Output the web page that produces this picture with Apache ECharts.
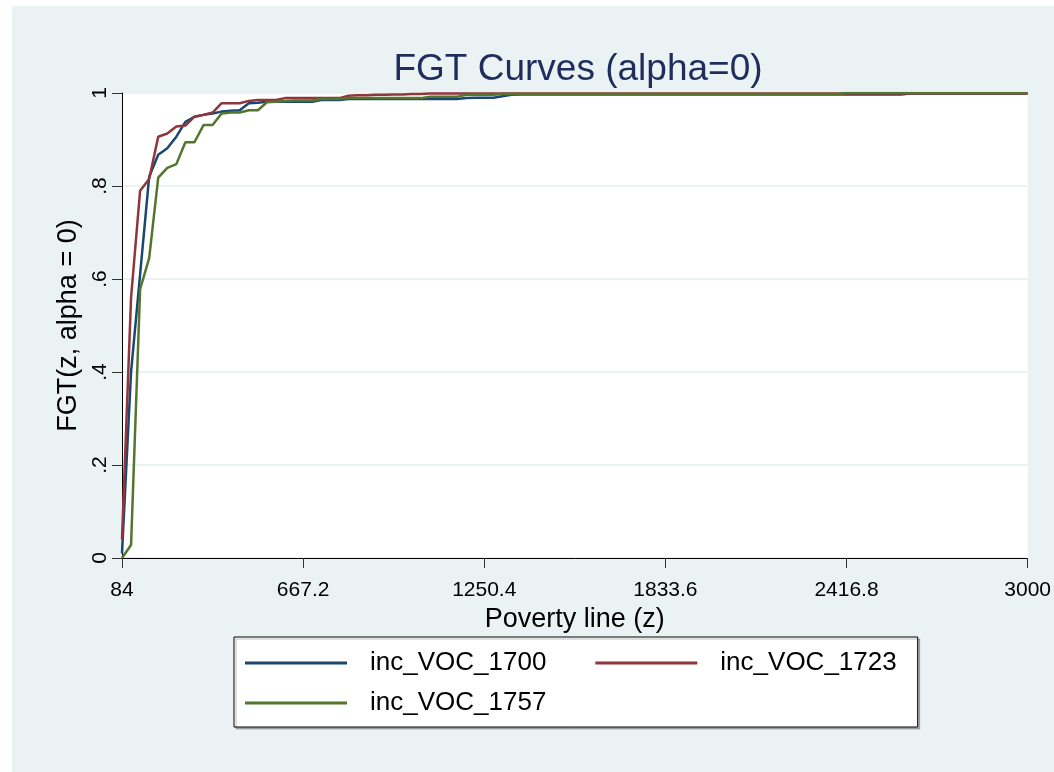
<!DOCTYPE html>
<html>
<head>
<meta charset="UTF-8">
<title>FGT Curves</title>
<script src="https://cdn.jsdelivr.net/npm/echarts@6/dist/echarts.min.js"></script>
<style>
  body { margin: 0; background: #fff; }
  #chart { position: absolute; left: 12px; top: 6px; width: 1042px; height: 766px; }
</style>
</head>
<body>
<div id="chart"></div>
<script type="text/javascript">

  // poverty line grid (z)
  var zLine = [84, 113.16, 142.32, 171.48, 200.64, 229.8, 258.96, 288.12, 317.28, 346.44,
    375.6, 404.76, 433.92, 463.08, 492.24, 521.4, 550.56, 579.72, 608.88, 638.04,
    667.2, 696.36, 725.52, 754.68, 783.84, 813, 842.16, 871.32, 900.48, 929.64,
    958.8, 987.96, 1017.12, 1046.28, 1075.44, 1104.6, 1133.76, 1162.92, 1192.08, 1221.24,
    1250.4, 1279.56, 1308.72, 1337.88, 1367.04, 1396.2, 1425.36, 1454.52, 1483.68, 1512.84,
    1542, 1571.16, 1600.32, 1629.48, 1658.64, 1687.8, 1716.96, 1746.12, 1775.28, 1804.44,
    1833.6, 1862.76, 1891.92, 1921.08, 1950.24, 1979.4, 2008.56, 2037.72, 2066.88, 2096.04,
    2125.2, 2154.36, 2183.52, 2212.68, 2241.84, 2271, 2300.16, 2329.32, 2358.48, 2387.64,
    2416.8, 2445.96, 2475.12, 2504.28, 2533.44, 2562.6, 2591.76, 2620.92, 2650.08, 2679.24,
    2708.4, 2737.56, 2766.72, 2795.88, 2825.04, 2854.2, 2883.36, 2912.52, 2941.68, 2970.84,
    3000];

  var voc1700 = [0.01, 0.40, 0.61, 0.82, 0.867, 0.881, 0.906, 0.938, 0.949, 0.953,
    0.956, 0.96, 0.962, 0.963, 0.978, 0.979, 0.981, 0.981, 0.981, 0.981,
    0.981, 0.981, 0.985, 0.985, 0.985, 0.987, 0.987, 0.987, 0.987, 0.987,
    0.987, 0.987, 0.987, 0.987, 0.987, 0.987, 0.987, 0.987, 0.989, 0.99,
    0.99, 0.99, 0.993, 0.996, 0.997, 0.997, 0.997, 0.997, 0.997, 0.997,
    0.997, 0.997, 0.997, 0.997, 0.997, 0.997, 0.997, 0.997, 0.997, 0.997,
    0.997, 0.997, 0.997, 0.997, 0.997, 0.997, 0.997, 0.997, 0.997, 0.997,
    0.997, 0.997, 0.997, 0.997, 0.997, 0.997, 0.997, 0.997, 0.997, 0.997,
    0.997, 0.997, 0.997, 0.997, 0.997, 0.997, 0.997, 0.999, 0.999, 0.999,
    0.999, 0.999, 0.999, 0.999, 0.999, 0.999, 0.999, 0.999, 0.999, 0.999,
    0.999];

  var voc1723 = [0.04, 0.56, 0.79, 0.815, 0.906, 0.913, 0.928, 0.93, 0.949, 0.953,
    0.958, 0.978, 0.978, 0.978, 0.983, 0.985, 0.985, 0.985, 0.989, 0.989,
    0.989, 0.989, 0.989, 0.989, 0.989, 0.994, 0.995, 0.995, 0.996, 0.996,
    0.997, 0.997, 0.998, 0.998, 0.999, 0.999, 0.999, 0.999, 0.999, 0.999,
    0.999, 0.999, 0.999, 0.999, 0.999, 0.999, 0.999, 0.999, 0.999, 0.999,
    0.999, 0.999, 0.999, 0.999, 0.999, 0.999, 0.999, 0.999, 0.999, 0.999,
    0.999, 0.999, 0.999, 0.999, 0.999, 0.999, 0.999, 0.999, 0.999, 0.999,
    0.999, 0.999, 0.999, 0.999, 0.999, 0.999, 0.999, 0.999, 0.999, 0.999,
    0.999, 0.999, 0.999, 0.999, 0.999, 0.999, 0.999, 0.999, 0.999, 0.999,
    0.999, 0.999, 0.999, 0.999, 0.999, 0.999, 0.999, 0.999, 0.999, 0.999,
    0.999];

  var voc1757 = [0, 0.028, 0.578, 0.645, 0.818, 0.839, 0.847, 0.894, 0.894, 0.931,
    0.931, 0.956, 0.958, 0.958, 0.963, 0.963, 0.98, 0.981, 0.983, 0.984,
    0.984, 0.984, 0.987, 0.987, 0.987, 0.989, 0.989, 0.989, 0.989, 0.989,
    0.989, 0.989, 0.989, 0.989, 0.992, 0.992, 0.992, 0.992, 0.996, 0.996,
    0.996, 0.996, 0.998, 0.998, 0.998, 0.998, 0.998, 0.998, 0.998, 0.998,
    0.998, 0.998, 0.998, 0.998, 0.998, 0.998, 0.998, 0.998, 0.998, 0.998,
    0.998, 0.998, 0.998, 0.998, 0.998, 0.998, 0.998, 0.998, 0.998, 0.998,
    0.998, 0.998, 0.998, 0.998, 0.998, 0.998, 0.998, 0.998, 0.998, 0.998,
    1, 1, 1, 1, 1, 1, 1, 1, 1, 1,
    1, 1, 1, 1, 1, 1, 1, 1, 1, 1,
    1];

  var xTicks = [84, 667.2, 1250.4, 1833.6, 2416.8, 3000];
  var seriesNames = ['inc_VOC_1700', 'inc_VOC_1723', 'inc_VOC_1757'];
  var seriesColors = ['#1a476f', '#90353b', '#55752f'];

  function pairs(ys) {
    var out = [];
    for (var i = 0; i < zLine.length; i++) {
      out.push([zLine[i], ys[i]]);
    }
    return out;
  }

  var font = "'Liberation Sans', Arial, sans-serif";
  var myChart = echarts.init(document.getElementById('chart'));

  var legendText = { fontFamily: font, fontSize: 26, color: '#000', lineHeight: 30, padding: [0, 0, 0, 18] };

  var option = {
    backgroundColor: '#eaf2f3',
    animation: false,
    title: {
      text: 'FGT Curves (alpha=0)',
      left: 561,
      top: 40,
      textAlign: 'center',
      textStyle: { fontFamily: font, fontSize: 37, fontWeight: 'normal', color: '#1f2d5c' }
    },
    grid: {
      left: 110, right: 24, top: 87, bottom: 214,
      show: true, backgroundColor: '#fff', borderWidth: 0
    },
    legend: [
      {
        data: ['inc_VOC_1700', 'inc_VOC_1723'],
        left: 222, top: 631,
        orient: 'horizontal',
        padding: [11, 21, 49, 11],
        itemGap: 49,
        itemWidth: 102, itemHeight: 3,
        icon: 'rect',
        backgroundColor: '#fff',
        borderColor: '#000', borderWidth: 1,
        shadowColor: 'rgba(0,0,0,0.25)', shadowOffsetX: 2, shadowOffsetY: 2,
        selectedMode: false,
        textStyle: legendText
      },
      {
        data: ['inc_VOC_1757'],
        left: 222, top: 682, z: 6,
        padding: [0, 21, 0, 11],
        itemWidth: 102, itemHeight: 3,
        icon: 'rect',
        selectedMode: false,
        textStyle: legendText
      }
    ],
    xAxis: {
      type: 'value',
      min: 84, max: 3000,
      name: 'Poverty line (z)',
      nameLocation: 'middle',
      nameGap: 33,
      nameTextStyle: { fontFamily: font, fontSize: 27, color: '#000' },
      axisLine: { lineStyle: { color: '#000', width: 1 } },
      axisTick: { show: true, length: 10, customValues: xTicks, lineStyle: { color: '#333' } },
      axisLabel: {
        customValues: xTicks, margin: 22,
        fontFamily: font, fontSize: 21, color: '#000',
        formatter: function (v) { return String(+v.toFixed(1)); }
      },
      splitLine: { show: false }
    },
    yAxis: {
      type: 'value',
      min: 0, max: 1, interval: 0.2,
      name: 'FGT(z, alpha = 0)',
      nameLocation: 'middle',
      nameGap: 32,
      nameTextStyle: { fontFamily: font, fontSize: 27, color: '#000' },
      axisLine: { show: true, lineStyle: { color: '#000', width: 1 } },
      axisTick: { show: true, length: 10, lineStyle: { color: '#333' } },
      axisLabel: {
        rotate: 90, margin: 11,
        fontFamily: font, fontSize: 21, color: '#000',
        formatter: function (v) {
          if (v === 0) return '0';
          if (v === 1) return '1';
          return '.' + Math.round(v * 10);
        }
      },
      splitLine: { show: true, lineStyle: { color: '#eaf2f3', width: 2 } }
    },
    series: [0, 1, 2].map(function (i) {
      return {
        name: seriesNames[i],
        type: 'line',
        data: pairs([voc1700, voc1723, voc1757][i]),
        symbol: 'none',
        color: seriesColors[i],
        lineStyle: { width: 2.5, color: seriesColors[i] }
      };
    })
  };

  myChart.setOption(option);

</script>
</body>
</html>
